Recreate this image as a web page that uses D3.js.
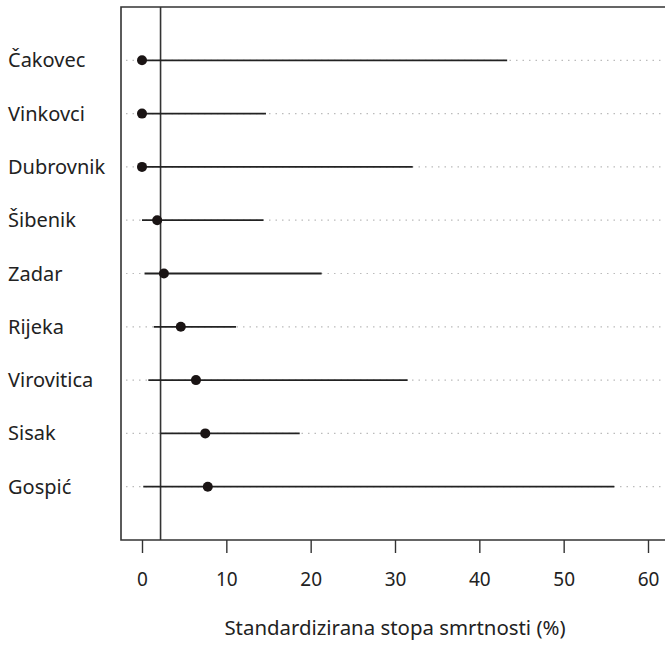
<!DOCTYPE html>
<html><head><meta charset="utf-8">
<script src="https://cdn.jsdelivr.net/npm/d3@7"></script>
<style>body{margin:0;background:#fff}svg{display:block}text{font-family:"Noto Sans",sans-serif;fill:#222}</style>
</head><body><svg id="c" width="665" height="646"></svg>
<script>
const cities = ["Čakovec","Vinkovci","Dubrovnik","Šibenik","Zadar","Rijeka","Virovitica","Sisak","Gospić"];
const estimate = [0, 0, 0, 1.8, 2.6, 4.6, 6.4, 7.5, 7.8];
const lower = [0, 0, 0, 0, 0.3, 1.4, 0.75, 2.25, 0.15];
const upper = [43.3, 14.7, 32.1, 14.4, 21.3, 11.15, 31.5, 18.7, 56.0];
const xTicks = [0, 10, 20, 30, 40, 50, 60];
const refValue = 2.2;
const xTitle = "Standardizirana stopa smrtnosti (%)";

(function(){
const svg = d3.select("#c");
const pLeft = 121, pTop = 7, pBottom = 540, pRight = 700;
const x = d3.scaleLinear().domain([0, 60]).range([142, 648]);
const y = d3.scaleLinear().domain([0, cities.length + 1]).range([pTop, pBottom]);
const row = i => y(i + 1);

svg.append("g").selectAll("line").data(cities).join("line")
  .attr("x1", pLeft + 5).attr("x2", pRight)
  .attr("y1", (d,i) => row(i)).attr("y2", (d,i) => row(i))
  .attr("stroke", "#bbb").attr("stroke-width", 1.2).attr("stroke-dasharray", "1.5,5");

svg.append("line").attr("x1", x(refValue)).attr("x2", x(refValue))
  .attr("y1", pTop).attr("y2", pBottom).attr("stroke", "#333").attr("stroke-width", 1.6);

svg.append("g").selectAll("line").data(cities).join("line")
  .attr("x1", (d,i) => x(lower[i])).attr("x2", (d,i) => x(upper[i]))
  .attr("y1", (d,i) => row(i)).attr("y2", (d,i) => row(i))
  .attr("stroke", "#222").attr("stroke-width", 1.8);

svg.append("g").selectAll("circle").data(cities).join("circle")
  .attr("cx", (d,i) => x(estimate[i])).attr("cy", (d,i) => row(i))
  .attr("r", 5).attr("fill", "#1a1414");

svg.append("path").attr("d", `M${pRight},${pTop}H${pLeft}V${pBottom}H${pRight}`)
  .attr("fill", "none").attr("stroke", "#333").attr("stroke-width", 1.6);

svg.append("g").selectAll("text").data(cities).join("text")
  .attr("x", 8).attr("y", (d,i) => row(i)).attr("dy", "0.35em")
  .attr("font-size", 20).text(d => d);

const ax = svg.append("g").attr("transform", `translate(0,${pBottom})`)
  .call(d3.axisBottom(x).tickValues(xTicks).tickSize(13).tickPadding(20).tickFormat(d3.format("d")));
ax.select(".domain").remove();
ax.selectAll(".tick line").attr("stroke", "#333").attr("stroke-width", 1.4);
ax.selectAll(".tick text").attr("font-size", 19).attr("font-family", "Noto Sans, sans-serif").attr("fill", "#222");

svg.append("text").attr("x", 395).attr("y", 635).attr("text-anchor", "middle")
  .attr("font-size", 20.4).text(xTitle);
})();
</script></body></html>
